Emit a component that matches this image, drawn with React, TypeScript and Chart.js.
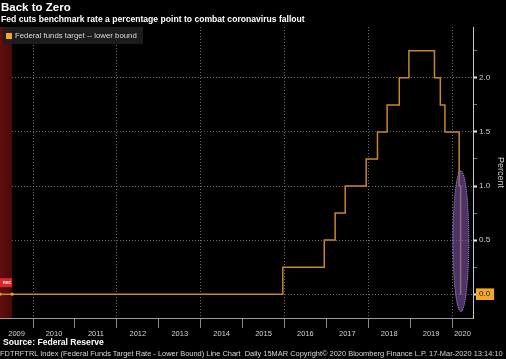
import React, { useEffect, useRef } from 'react';
import { Chart, registerables } from 'chart.js';

Chart.register(...registerables);

const titleText = 'Back to Zero';
const subtitleText = 'Fed cuts benchmark rate a percentage point to combat coronavirus fallout';
const seriesName = 'Federal funds target -- lower bound';
const sourceText = 'Source: Federal Reserve';
const footerText =
  'FDTRFTRL Index (Federal Funds Target Rate - Lower Bound) Line Chart  Daily 15MAR Copyright\u00a9 2020 Bloomberg Finance L.P. 17-Mar-2020 13:14:10';

// Dates (decimal years) at which the target lower bound changed, and the new level (%)
const rateDates = [
  2009.21, 2015.96, 2016.95, 2017.21, 2017.45, 2017.95, 2018.22, 2018.45, 2018.74, 2018.97,
  2019.58, 2019.72, 2019.83, 2020.17, 2020.205, 2020.21,
];
const rateValues = [0, 0.25, 0.5, 0.75, 1.0, 1.25, 1.5, 1.75, 2.0, 2.25, 2.0, 1.75, 1.5, 1.0, 0, 0];

const yearLabels = ['2009', '2010', '2011', '2012', '2013', '2014', '2015', '2016', '2017', '2018', '2019', '2020'];
const yearStarts = [2009, 2010, 2011, 2012, 2013, 2014, 2015, 2016, 2017, 2018, 2019, 2020];
const yTickValues = [0, 0.25, 0.5, 0.75, 1.0, 1.25, 1.5, 1.75, 2.0, 2.25];

const xMin = 2009.21;
const xMax = 2020.5;
const yMin = -0.22;
const yMax = 2.47;

const recessionEnd = 2009.5;
const highlightCenter = [2020.21, 0.49];
const highlightRadius = [0.19, 0.65];

const lineColor = '#c8862e';
const gridColor = 'rgba(125,125,125,0.85)';

const isMajor = (v: number) => Math.abs((v * 2) % 1) < 1e-6;

const overlayPlugin = {
  id: 'overlays',
  beforeDatasetsDraw(chart: any) {
    const { ctx, chartArea, scales } = chart;
    const x = scales.x;
    const y = scales.y;
    const x0 = chartArea.left;
    const x1 = x.getPixelForValue(recessionEnd);
    ctx.save();
    const g = ctx.createLinearGradient(x0, 0, x1, 0);
    g.addColorStop(0, 'rgb(100,14,14)');
    g.addColorStop(1, 'rgb(72,9,9)');
    ctx.fillStyle = g;
    ctx.fillRect(x0, chartArea.top, x1 - x0, chartArea.bottom - chartArea.top);
    // REC marker
    const ry = y.getPixelForValue(0) - 16;
    ctx.fillStyle = '#d8282a';
    ctx.fillRect(x0, ry, x1 - x0, 9);
    ctx.fillStyle = '#fff';
    ctx.font = 'bold 4px "Liberation Sans", Arial, sans-serif';
    ctx.textBaseline = 'middle';
    ctx.fillText('REC', x0 + 3, ry + 4.5);
    ctx.restore();
  },
  afterDatasetsDraw(chart: any) {
    const { ctx, scales } = chart;
    const x = scales.x;
    const y = scales.y;
    ctx.save();
    // recession boundary dots
    ctx.fillStyle = '#e39a36';
    [xMin, recessionEnd].forEach((v) => {
      ctx.beginPath();
      ctx.arc(x.getPixelForValue(v), y.getPixelForValue(0), 1.6, 0, Math.PI * 2);
      ctx.fill();
    });
    // highlight ellipse
    const cx = x.getPixelForValue(highlightCenter[0]);
    const cy = y.getPixelForValue(highlightCenter[1]);
    const rx = Math.abs(x.getPixelForValue(highlightCenter[0] + highlightRadius[0]) - cx);
    const ryy = Math.abs(y.getPixelForValue(highlightCenter[1] + highlightRadius[1]) - cy);
    ctx.beginPath();
    ctx.ellipse(cx, cy, rx, ryy, 0, 0, Math.PI * 2);
    ctx.fillStyle = 'rgba(120,84,165,0.62)';
    ctx.fill();
    ctx.setLineDash([1, 1]);
    ctx.lineWidth = 1;
    ctx.strokeStyle = '#c7a0ee';
    ctx.stroke();
    ctx.restore();
  },
};

function yearCenters(): number[] {
  return yearStarts.map((s) => (Math.max(s, xMin) + Math.min(s + 1, xMax)) / 2);
}

export default function App() {
  const canvasRef = useRef<HTMLCanvasElement | null>(null);

  useEffect(() => {
    const canvas = canvasRef.current;
    if (!canvas) return;
    const points = rateDates.map((d, i) => ({ x: d, y: rateValues[i] }));
    const chart = new Chart(canvas, {
      type: 'line',
      data: {
        datasets: [
          {
            label: seriesName,
            data: points,
            borderColor: lineColor,
            backgroundColor: lineColor,
            borderWidth: 1.5,
            pointRadius: 0,
            stepped: 'before',
            fill: false,
          },
        ],
      },
      plugins: [overlayPlugin],
      options: {
        animation: false,
        responsive: false,
        devicePixelRatio: 1,
        layout: { padding: { top: 27, left: 0, right: 0, bottom: 0 } },
        plugins: { legend: { display: false }, tooltip: { enabled: false }, title: { display: false } },
        scales: {
          x: {
            type: 'linear',
            position: 'bottom',
            weight: 0,
            min: xMin,
            max: xMax,
            afterBuildTicks: (scale: any) => {
              scale.ticks = yearStarts.filter((v) => v > xMin && v < xMax).map((v) => ({ value: v }));
            },
            afterFit: (scale: any) => {
              scale.height = 10;
            },
            ticks: { display: false },
            grid: {
              color: (c: any) => (c.tick && Math.round(c.tick.value) % 2 === 0 ? gridColor : 'rgba(0,0,0,0)'),
              tickBorderDash: [],
              tickColor: '#8a8a8a',
              tickLength: 10,
              drawTicks: true,
              lineWidth: 1,
            },
            border: { display: true, color: '#9a9a9a', width: 1, dash: [1, 2] },
          },
          xl: {
            type: 'linear',
            position: 'bottom',
            weight: 1,
            min: xMin,
            max: xMax,
            afterBuildTicks: (scale: any) => {
              scale.ticks = yearCenters().map((v) => ({ value: v }));
            },
            afterFit: (scale: any) => {
              scale.height = 31;
            },
            grid: { display: false, drawTicks: false, tickLength: 0 },
            border: { display: false },
            ticks: {
              autoSkip: false,
              maxRotation: 0,
              minRotation: 0,
              padding: 1,
              color: '#d4d4d4',
              font: { size: 7.5, family: '"Liberation Sans", Arial, sans-serif' },
              callback: (_v: any, i: number) => yearLabels[i],
            },
          },
          y: {
            type: 'linear',
            position: 'right',
            min: yMin,
            max: yMax,
            afterBuildTicks: (scale: any) => {
              scale.ticks = yTickValues.map((v) => ({ value: v }));
            },
            afterFit: (scale: any) => {
              scale.width = 33;
            },
            grid: {
              color: (c: any) => (c.tick && isMajor(c.tick.value) ? gridColor : 'rgba(0,0,0,0)'),
              tickBorderDash: [],
              tickColor: (c: any) => (c.tick && isMajor(c.tick.value) ? '#e8e8e8' : '#777'),
              tickWidth: (c: any) => (c.tick && isMajor(c.tick.value) ? 2 : 1),
              tickLength: 4,
              drawTicks: true,
            },
            border: { display: true, color: '#c8c8c8', width: 1, dash: [1, 2] },
            ticks: {
              autoSkip: false,
              padding: 2,
              font: { size: 8, family: '"Liberation Sans", Arial, sans-serif' },
              color: (c: any) => (c.tick && c.tick.value === 0 ? '#1a1a1a' : '#d0d0d0'),
              showLabelBackdrop: (c: any) => !!(c.tick && c.tick.value === 0),
              backdropColor: '#f5a52a',
              backdropPadding: { left: 3, right: 4, top: 1, bottom: 1 },
              callback: (v: any) => (isMajor(Number(v)) ? Number(v).toFixed(1) : ''),
            },
            title: {
              display: true,
              text: 'Percent',
              color: '#d0d0d0',
              padding: 0,
              font: { size: 9, family: '"Liberation Sans", Arial, sans-serif' },
            },
          },
        },
      } as any,
    });
    return () => chart.destroy();
  }, []);

  const font = '"Liberation Sans", Arial, sans-serif';
  return (
    <div
      style={{
        position: 'fixed',
        left: 0,
        top: 0,
        width: 506,
        height: 359,
        background: '#000',
        overflow: 'hidden',
        fontFamily: font,
      }}
    >
      <canvas ref={canvasRef} width={506} height={359} style={{ position: 'absolute', left: 0, top: 0, width: 506, height: 359 }} />
      <div style={{ position: 'absolute', left: 1, top: 0, color: '#fff', fontWeight: 'bold', fontSize: 11.5, lineHeight: '15px', whiteSpace: 'nowrap' }}>
        {titleText}
      </div>
      <div style={{ position: 'absolute', left: 1, top: 14, color: '#fff', fontWeight: 'bold', fontSize: 8.6, lineHeight: '10px', whiteSpace: 'nowrap' }}>
        {subtitleText}
      </div>
      <div
        style={{
          position: 'absolute',
          left: 3,
          top: 27,
          width: 140,
          height: 17,
          background: 'rgba(30,30,30,0.92)',
          display: 'flex',
          alignItems: 'center',
          whiteSpace: 'nowrap',
        }}
      >
        <span style={{ display: 'inline-block', width: 6, height: 6, background: '#f5a42c', marginLeft: 3, marginRight: 3 }} />
        <span style={{ color: '#dcdcdc', fontSize: 7.8, lineHeight: '10px' }}>{seriesName}</span>
      </div>
      <div style={{ position: 'absolute', left: 3, top: 337, color: '#fff', fontWeight: 'bold', fontSize: 8.6, lineHeight: '10px', whiteSpace: 'nowrap' }}>
        {sourceText}
      </div>
      <div style={{ position: 'absolute', left: 0, top: 349, color: '#d8d8d8', fontSize: 7.45, lineHeight: '9px', whiteSpace: 'pre' }}>
        {footerText}
      </div>
    </div>
  );
}
